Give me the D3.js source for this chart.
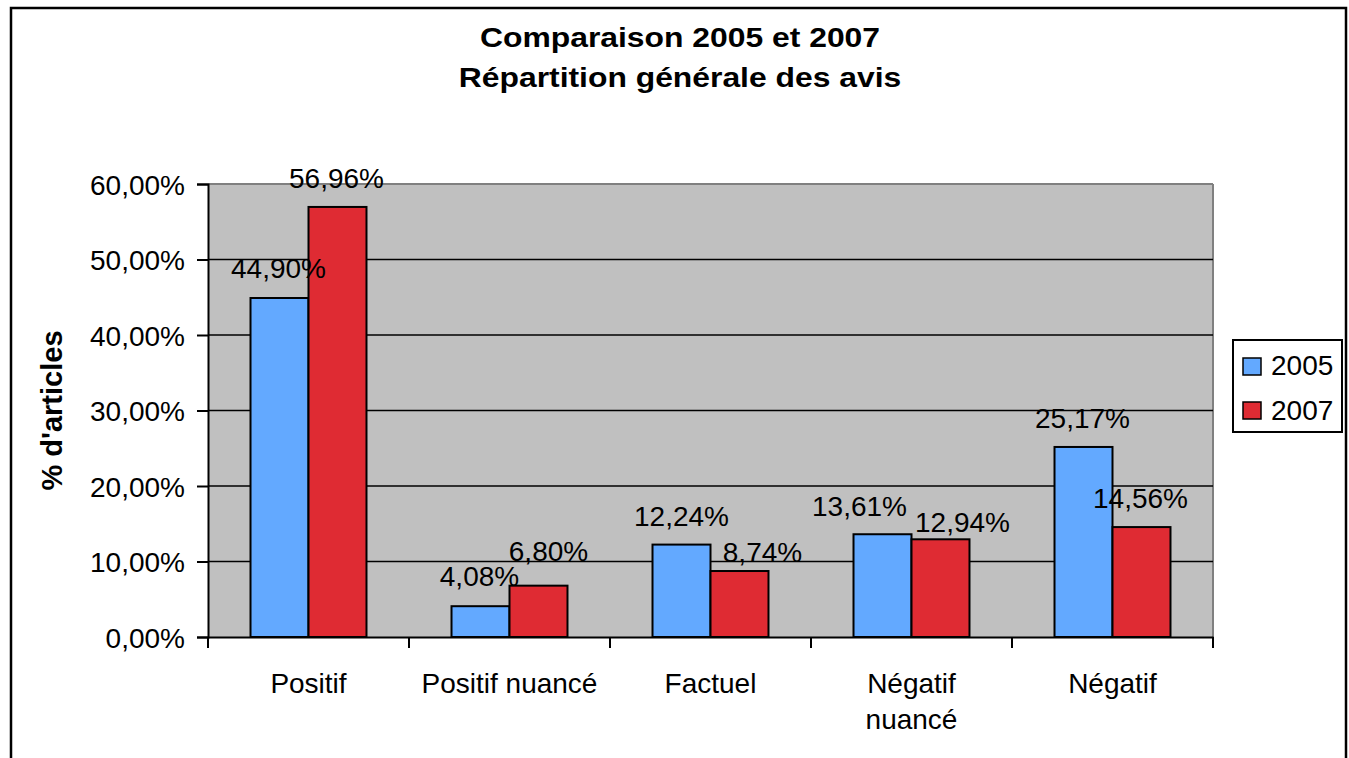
<!DOCTYPE html>
<html><head><meta charset="utf-8">
<script src="https://cdn.jsdelivr.net/npm/d3@7"></script>
<style>body{margin:0;background:#fff}svg{display:block;font-family:"Liberation Sans",Arial,sans-serif}</style>
</head><body><svg id="c" width="1349" height="758"></svg>
<script>
const categories = ["Positif", "Positif nuancé", "Factuel", "Négatif nuancé", "Négatif"];
const seriesNames = ["2005", "2007"];
const values2005 = [44.90, 4.08, 12.24, 13.61, 25.17];
const values2007 = [56.96, 6.80, 8.74, 12.94, 14.56];
const yTicks = [0, 10, 20, 30, 40, 50, 60];
const colors = ["#63A9FF", "#DF2B33"];
// manual label nudges (layout only): [dx, gap above bar] per category per series
const labelNudge2005 = [[-1, 20], [-1, 20], [0, 19], [-23, 18], [-1, 19]];
const labelNudge2007 = [[-1, 19], [10, 25], [23, 9], [22, 7], [-1, 19]];

const svg = d3.select("#c");
const L = 208, R = 1213, T = 184, B = 637;

svg.append("rect").attr("x", 11).attr("y", 8).attr("width", 1335).attr("height", 760)
  .attr("fill", "#fff").attr("stroke", "#000").attr("stroke-width", 2.5);

const x = d3.scaleBand().domain(categories).range([L, R]);
const xi = d3.scaleBand().domain(seriesNames).range([0, x.bandwidth()]).paddingInner(0).paddingOuter(0.733);
const y = d3.scaleLinear().domain([0, 60]).range([B, T]);

svg.append("rect").attr("x", L).attr("y", T).attr("width", R - L).attr("height", B - T)
  .attr("fill", "#C0C0C0");
svg.append("line").attr("x1", L).attr("x2", R).attr("y1", T).attr("y2", T).attr("stroke", "#808080").attr("stroke-width", 2);
svg.append("line").attr("x1", R).attr("x2", R).attr("y1", T).attr("y2", B).attr("stroke", "#808080").attr("stroke-width", 2);

// gridlines
svg.append("g").selectAll("line").data(yTicks.filter(d => d > 0 && d < 60)).join("line")
  .attr("x1", L).attr("x2", R).attr("y1", d => y(d)).attr("y2", d => y(d))
  .attr("stroke", "#000").attr("stroke-width", 1.5);

const fmt = v => v.toFixed(2).replace(".", ",") + "%";

// y axis
const yAxis = svg.append("g").attr("transform", `translate(${L},0)`)
  .call(d3.axisLeft(y).tickValues(yTicks).tickSize(11).tickPadding(12).tickFormat(fmt));
yAxis.select(".domain").attr("stroke", "#000").attr("stroke-width", 2);
yAxis.selectAll(".tick line").attr("stroke", "#000").attr("stroke-width", 2);
yAxis.selectAll("text").attr("font-size", 28).attr("fill", "#000").attr("dy", "0.36em")
  .attr("font-family", "Liberation Sans, Arial, sans-serif");

// x axis
const xAxis = svg.append("g").attr("transform", `translate(0,${B})`)
  .call(d3.axisBottom(x).tickSize(0).tickFormat(""));
xAxis.select(".domain").attr("stroke", "#000").attr("stroke-width", 2);
svg.append("g").selectAll("line").data(d3.range(categories.length + 1)).join("line")
  .attr("x1", i => L + i * x.step()).attr("x2", i => L + i * x.step())
  .attr("y1", B).attr("y2", B + 11).attr("stroke", "#000").attr("stroke-width", 2);

// x labels
const xl = svg.append("g").selectAll("text").data(categories).join("text")
  .attr("text-anchor", "middle").attr("font-size", 28).attr("fill", "#000");
xl.each(function(d) {
  const t = d3.select(this);
  const cx = x(d) + x.bandwidth() / 2;
  const lines = d === "Négatif nuancé" ? ["Négatif", "nuancé"] : [d];
  lines.forEach((s, i) => t.append("tspan").attr("x", cx).attr("y", 693 + i * 36).text(s));
});

// bars
const data = categories.map((c, i) => ({ c, vals: [values2005[i], values2007[i]], nudges: [labelNudge2005[i], labelNudge2007[i]] }));
const groups = svg.append("g").selectAll("g").data(data).join("g")
  .attr("transform", d => `translate(${x(d.c)},0)`);
groups.selectAll("rect").data(d => d.vals.map((v, j) => ({ v, s: seriesNames[j], j }))).join("rect")
  .attr("x", d => xi(d.s)).attr("width", xi.bandwidth())
  .attr("y", d => y(d.v)).attr("height", d => B - y(d.v))
  .attr("fill", d => colors[d.j]).attr("stroke", "#000").attr("stroke-width", 2);
groups.selectAll("text").data(d => d.vals.map((v, j) => ({ v, s: seriesNames[j], j, n: d.nudges[j] }))).join("text")
  .attr("x", d => xi(d.s) + xi.bandwidth() / 2 + d.n[0]).attr("y", d => y(d.v) - d.n[1])
  .attr("text-anchor", "middle").attr("font-size", 28).attr("fill", "#000")
  .text(d => fmt(d.v));

// title
svg.append("text").attr("transform", "translate(680,47) scale(1.18,1)").attr("text-anchor", "middle")
  .attr("font-size", 27).attr("font-weight", "bold").text("Comparaison 2005 et 2007");
svg.append("text").attr("transform", "translate(680,87) scale(1.18,1)").attr("text-anchor", "middle")
  .attr("font-size", 27).attr("font-weight", "bold").text("Répartition générale des avis");

// y title
svg.append("text").attr("transform", `translate(62,${(T + B) / 2}) rotate(-90)`)
  .attr("text-anchor", "middle").attr("font-size", 29).attr("font-weight", "bold").text("% d'articles");

// legend
const lg = svg.append("g");
lg.append("rect").attr("x", 1233).attr("y", 340).attr("width", 109).attr("height", 92)
  .attr("fill", "#fff").attr("stroke", "#000").attr("stroke-width", 2);
seriesNames.forEach((s, i) => {
  lg.append("rect").attr("x", 1243).attr("y", 358 + i * 44).attr("width", 18).attr("height", 17)
    .attr("fill", colors[i]).attr("stroke", "#000").attr("stroke-width", 1.5);
  lg.append("text").attr("x", 1271).attr("y", 375 + i * 45).attr("font-size", 28).text(s);
});
</script></body></html>
